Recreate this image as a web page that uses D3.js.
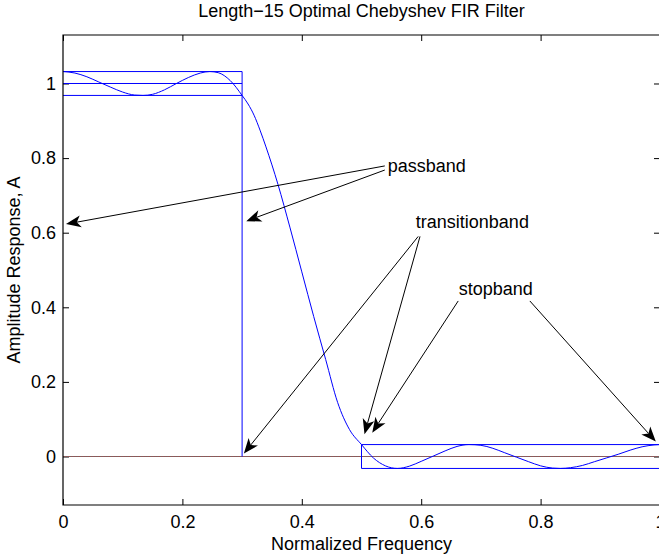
<!DOCTYPE html>
<html>
<head>
<meta charset="utf-8">
<script src="https://cdn.jsdelivr.net/npm/d3@7"></script>
<style>
  html, body { margin: 0; padding: 0; background: #fff; }
  svg { display: block; font-family: "Liberation Sans", Arial, Helvetica, sans-serif; }
</style>
</head>
<body>
<svg id="chart" width="659" height="556"></svg>
<script>
// Amplitude response of the length-15 equiripple lowpass
const freqs = [0.00, 0.02, 0.04, 0.06, 0.08, 0.10, 0.12, 0.134, 0.15, 0.17, 0.19, 0.21, 0.23, 0.246, 0.26, 0.28, 0.30,
               0.31, 0.32, 0.33, 0.34, 0.36, 0.38, 0.40, 0.42, 0.44, 0.46, 0.48, 0.50,
               0.52, 0.54, 0.56, 0.58, 0.60, 0.62, 0.64, 0.66, 0.68, 0.70, 0.72, 0.74, 0.76, 0.78, 0.80, 0.82, 0.833,
               0.85, 0.87, 0.89, 0.91, 0.93, 0.95, 0.97, 0.99, 1.00];
const amps  = [1.032, 1.028, 1.018, 1.004, 0.990, 0.977, 0.969, 0.968, 0.971, 0.983, 1.000, 1.016, 1.028, 1.032, 1.029, 1.008, 0.968,
               0.945, 0.915, 0.875, 0.830, 0.730, 0.615, 0.495, 0.375, 0.260, 0.145, 0.072, 0.032,
               -0.004, -0.025, -0.032, -0.026, -0.013, 0.001, 0.015, 0.027, 0.032, 0.030, 0.022, 0.010, -0.002, -0.014, -0.025, -0.031, -0.032,
               -0.030, -0.024, -0.014, -0.004, 0.006, 0.017, 0.026, 0.031, 0.032];

// Band specification: passband edge, stopband edge, ripple
const bandEdges = [0, 0.3, 0.5, 1];
const ripple = 0.032;

// Tick values
const xTicks = [0, 0.2, 0.4, 0.6, 0.8, 1];
const yTicks = [0, 0.2, 0.4, 0.6, 0.8, 1];
const xDomain = [0, 1];
const yDomain = [-0.13, 1.13];

// Annotations: label, label anchor [f, A], arrows [[fromF, fromA], [toF, toA]]
const noteLabels = ["passband", "transitionband", "stopband"];
const noteAnchors = [[0.544, 0.78], [0.591, 0.63], [0.663, 0.449]];
const noteArrows = [
  [[[0.539, 0.779], [0.005, 0.623]], [[0.539, 0.768], [0.307, 0.631]]],
  [[[0.595, 0.590], [0.303, 0.008]], [[0.598, 0.590], [0.505, 0.060]]],
  [[[0.662, 0.417], [0.518, 0.064]], [[0.782, 0.417], [0.993, 0.040]]]
];

const svg = d3.select("#chart");
const mLeft = 63, mRight = 660, mTop = 35, mBottom = 505;

const x = d3.scaleLinear().domain(xDomain).range([mLeft, mRight]);
const y = d3.scaleLinear().domain(yDomain).range([mBottom, mTop]);

const fontSize = 18;
const tickLen = 6;

// Axes with inward ticks on all four sides
const axB = d3.axisBottom(x).tickValues(xTicks).tickSize(-tickLen).tickPadding(10).tickFormat(d3.format("~g"));
const axT = d3.axisTop(x).tickValues(xTicks).tickSize(-tickLen).tickFormat("");
const axL = d3.axisLeft(y).tickValues(yTicks).tickSize(-tickLen).tickPadding(7).tickFormat(d3.format("~g"));
const axR = d3.axisRight(y).tickValues(yTicks).tickSize(-tickLen).tickFormat("");

function styleAxis(g) {
  g.select(".domain").remove();
  g.selectAll(".tick line").attr("stroke", "#000").attr("stroke-width", 1);
  g.selectAll(".tick text").attr("fill", "#000").style("font-size", fontSize + "px").attr("font-family", null);
}

svg.append("g").attr("transform", `translate(0,${mBottom})`).call(axB).call(styleAxis);
svg.append("g").attr("transform", `translate(0,${mTop})`).call(axT).call(styleAxis);
svg.append("g").attr("transform", `translate(${mLeft},0)`).call(axL).call(styleAxis);
svg.append("g").attr("transform", `translate(${mRight},0)`).call(axR).call(styleAxis);

// Zero reference line (dark trace with a red dotted overlay)
svg.append("line")
  .attr("x1", x(0)).attr("x2", x(1)).attr("y1", y(0)).attr("y2", y(0))
  .attr("stroke", "#6a6a6a").attr("stroke-width", 1);
svg.append("line")
  .attr("x1", x(0)).attr("x2", x(1)).attr("y1", y(0)).attr("y2", y(0))
  .attr("stroke", "#c04040").attr("stroke-width", 1).attr("stroke-dasharray", "1,1").attr("opacity", 0.7);

// Tolerance boxes
const blue = "#0000ff";
const [fp0, fp, fs, fs1] = bandEdges;
const bandLines = [
  [[fp0, 1 + ripple], [fp, 1 + ripple]],
  [[fp0, 1], [fp, 1]],
  [[fp0, 1 - ripple], [fp, 1 - ripple]],
  [[fp, 1 + ripple], [fp, 0]],
  [[fs, ripple], [fs1, ripple]],
  [[fs, -ripple], [fs1, -ripple]],
  [[fs, ripple], [fs, -ripple]]
];
svg.append("g").selectAll("line").data(bandLines).join("line")
  .attr("x1", d => x(d[0][0])).attr("y1", d => y(d[0][1]))
  .attr("x2", d => x(d[1][0])).attr("y2", d => y(d[1][1]))
  .attr("stroke", blue).attr("stroke-width", 1);

// Response curve
const pts = freqs.map((f, i) => [f, amps[i]]);
svg.append("path")
  .datum(pts)
  .attr("fill", "none")
  .attr("stroke", blue)
  .attr("stroke-width", 1)
  .attr("d", d3.line().x(d => x(d[0])).y(d => y(d[1])).curve(d3.curveMonotoneX));

// Axis box
svg.append("path")
  .attr("d", `M${mRight},${mTop}H${mLeft}V${mBottom}H${mRight}`)
  .attr("fill", "none").attr("stroke", "#000").attr("stroke-width", 1.2);

// Annotations
const gN = svg.append("g");
const headLen = 15, headHalf = 6, notch = 4;
noteArrows.forEach(arrows => {
  arrows.forEach(([from, to]) => {
    const x0 = x(from[0]), y0 = y(from[1]), x1 = x(to[0]), y1 = y(to[1]);
    const ang = Math.atan2(y1 - y0, x1 - x0);
    const ux = Math.cos(ang), uy = Math.sin(ang);
    const bx = x1 - ux * headLen, by = y1 - uy * headLen;
    const nx = x1 - ux * (headLen - notch), ny = y1 - uy * (headLen - notch);
    gN.append("line")
      .attr("x1", x0).attr("y1", y0).attr("x2", nx).attr("y2", ny)
      .attr("stroke", "#000").attr("stroke-width", 1);
    gN.append("path")
      .attr("d", `M${x1},${y1}L${bx - uy * headHalf},${by + ux * headHalf}L${nx},${ny}L${bx + uy * headHalf},${by - ux * headHalf}Z`)
      .attr("fill", "#000");
  });
});
gN.selectAll("text").data(noteLabels).join("text")
  .attr("x", (d, i) => x(noteAnchors[i][0]))
  .attr("y", (d, i) => y(noteAnchors[i][1]))
  .attr("dy", "0.35em")
  .style("font-size", fontSize + "px")
  .attr("fill", "#000")
  .text(d => d);

// Title and axis labels
svg.append("text")
  .attr("x", (mLeft + mRight) / 2).attr("y", 17)
  .attr("text-anchor", "middle").style("font-size", fontSize + "px")
  .text("Length\u221215 Optimal Chebyshev FIR Filter");
svg.append("text")
  .attr("x", (mLeft + mRight) / 2).attr("y", 550)
  .attr("text-anchor", "middle").style("font-size", fontSize + "px")
  .text("Normalized Frequency");
svg.append("text")
  .attr("transform", `translate(20,${(mTop + mBottom) / 2}) rotate(-90)`)
  .attr("text-anchor", "middle").style("font-size", fontSize + "px")
  .text("Amplitude Response, A");
</script>
</body>
</html>
